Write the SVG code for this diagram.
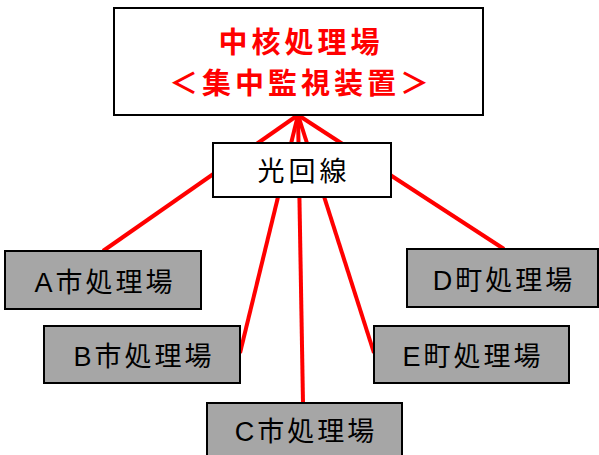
<svg xmlns="http://www.w3.org/2000/svg" width="599" height="455" viewBox="0 0 599 455">
<style>
.box{fill:#ffffff;stroke:#000000;stroke-width:2}
.site{fill:#a6a6a6;stroke:#000000;stroke-width:2}
.link{stroke:#ff0000;stroke-width:4;fill:none;stroke-linecap:butt}
.t{font-family:"Liberation Sans","Noto Sans CJK JP",sans-serif;text-anchor:middle;fill:#000000}
.lbl{font-size:27px;letter-spacing:3px}
.top{font-size:29px;font-weight:bold;fill:#ff0000;letter-spacing:4px}
</style>
<rect width="599" height="455" fill="#ffffff"/>
<g id="connectors">
<line class="link" x1="298" y1="115" x2="103" y2="251"/>
<line class="link" x1="298" y1="115" x2="240" y2="353"/>
<line class="link" x1="298" y1="115" x2="303" y2="403"/>
<line class="link" x1="298" y1="115" x2="374" y2="353"/>
<line class="link" x1="298" y1="115" x2="504" y2="249"/>
</g>
<g id="center">
<rect class="box" x="114" y="8" width="369" height="107"/>
<text class="t top" x="301" y="53">中核処理場</text>
<text class="t top" x="301" y="94">＜集中監視装置＞</text>
</g>
<g id="hikari">
<rect class="box" x="213" y="143" width="178" height="54"/>
<text class="t lbl" x="304" y="181" style="letter-spacing:4px">光回線</text>
</g>
<g id="siteA">
<rect class="site" x="5" y="251" width="196" height="58"/>
<text class="t lbl" x="105" y="292">A市処理場</text>
</g>
<g id="siteB">
<rect class="site" x="44" y="326" width="196" height="57"/>
<text class="t lbl" x="144" y="366">B市処理場</text>
</g>
<g id="siteC">
<rect class="site" x="207" y="403" width="195" height="60"/>
<text class="t lbl" x="306" y="441">C市処理場</text>
</g>
<g id="siteD">
<rect class="site" x="407" y="249" width="191" height="58"/>
<text class="t lbl" x="504" y="290">D町処理場</text>
</g>
<g id="siteE">
<rect class="site" x="374" y="326" width="195" height="57"/>
<text class="t lbl" x="473" y="366">E町処理場</text>
</g>
</svg>
